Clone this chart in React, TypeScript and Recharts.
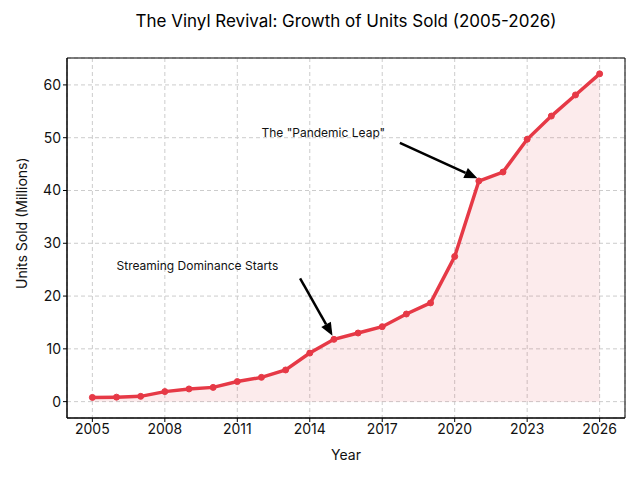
import React from "react";
import {
  ComposedChart,
  Area,
  Line,
  XAxis,
  YAxis,
  CartesianGrid,
  ReferenceLine,
  ReferenceDot,
  ReferenceArea,
} from "recharts";

// Units sold per year (millions)
const years = [
  2005, 2006, 2007, 2008, 2009, 2010, 2011, 2012, 2013, 2014, 2015,
  2016, 2017, 2018, 2019, 2020, 2021, 2022, 2023, 2024, 2025, 2026,
];
const units = [
  0.8, 0.85, 1.0, 1.9, 2.4, 2.7, 3.8, 4.6, 6.0, 9.2, 11.8,
  13.0, 14.2, 16.6, 18.7, 27.5, 41.8, 43.5, 49.7, 54.1, 58.1, 62.1,
];
const xTicks = [2005, 2008, 2011, 2014, 2017, 2020, 2023, 2026];
const yTicks = [0, 10, 20, 30, 40, 50, 60];

// annotations: text anchor and arrow tail/tip in data coordinates
const annotations = [
  { text: 'The "Pandemic Leap"', tx: 2012, ty: 50.1, from: [2017.73, 49.0], to: [2020.94, 42.3] },
  { text: "Streaming Dominance Starts", tx: 2006, ty: 24.9, from: [2013.6, 23.35], to: [2014.94, 12.5] },
];

const data = years.map((year, i) => ({ year, units: units[i] }));

const FONT = "Inter, 'Noto Sans', sans-serif";
const RED = "#e63946";

const Arrow = (props: any) => {
  const { x1, y1, x2, y2 } = props;
  const dx = x2 - x1;
  const dy = y2 - y1;
  const len = Math.sqrt(dx * dx + dy * dy);
  const ux = dx / len;
  const uy = dy / len;
  const headLen = 13;
  const headW = 5.5;
  const bx = x2 - ux * headLen;
  const by = y2 - uy * headLen;
  const pts = `${x2},${y2} ${bx - uy * headW},${by + ux * headW} ${bx + uy * headW},${by - ux * headW}`;
  return (
    <g>
      <line x1={x1} y1={y1} x2={bx} y2={by} stroke="#000" strokeWidth={2.5} />
      <polygon points={pts} fill="#000" />
    </g>
  );
};

export default function App() {
  return (
    <div style={{ position: "fixed", left: 0, top: 0, width: 640, height: 480, background: "#fff", fontFamily: FONT }}>
      <div
        style={{
          position: "absolute",
          top: 11,
          left: 67,
          width: 558,
          textAlign: "center",
          fontSize: 17,
          color: "#000",
        }}
      >
        The Vinyl Revival: Growth of Units Sold (2005-2026)
      </div>
      <ComposedChart
        width={640}
        height={480}
        data={data}
        margin={{ top: 58, right: 15, bottom: 0, left: 0 }}
        style={{ fontFamily: FONT }}
      >
        <CartesianGrid stroke="#cccccc" strokeDasharray="4 3" />
        <XAxis
          dataKey="year"
          type="number"
          domain={[2003.95, 2027.05]}
          ticks={xTicks}
          allowDataOverflow
          height={62}
          tick={{ fill: "#111", fontSize: 14 }}
          tickLine={{ stroke: "#000" }}
          tickSize={4}
          axisLine={{ stroke: "#000" }}
          label={{ value: "Year", position: "insideBottom", offset: 20, fill: "#111", fontSize: 14 }}
        />
        <YAxis
          type="number"
          domain={[-3.1, 65.1]}
          ticks={yTicks}
          allowDataOverflow
          width={67}
          tick={{ fill: "#111", fontSize: 14 }}
          tickLine={{ stroke: "#000" }}
          tickSize={4}
          axisLine={{ stroke: "#000" }}
          label={{
            value: "Units Sold (Millions)",
            angle: -90,
            position: "insideLeft",
            offset: 22,
            dy: 51,
            fill: "#111",
            fontSize: 14,
          }}
        />
        <Area
          dataKey="units"
          type="linear"
          baseValue={0}
          stroke="none"
          fill={RED}
          fillOpacity={0.1}
          isAnimationActive={false}
        />
        <Line
          dataKey="units"
          type="linear"
          stroke={RED}
          strokeWidth={3.5}
          dot={{ r: 3, fill: RED, stroke: RED, strokeWidth: 1 }}
          activeDot={false}
          isAnimationActive={false}
        />
        <ReferenceArea
          x1={2003.95}
          x2={2027.05}
          y1={-3.1}
          y2={65.1}
          fill="none"
          stroke="#000"
          strokeWidth={1}
          fillOpacity={0}
        />
        {annotations.map((a) => (
          <ReferenceLine
            key={a.text + "-arrow"}
            segment={[
              { x: a.from[0], y: a.from[1] },
              { x: a.to[0], y: a.to[1] },
            ]}
            shape={Arrow}
          />
        ))}
        {annotations.map((a) => (
          <ReferenceDot
            key={a.text}
            x={a.tx}
            y={a.ty}
            r={0}
            shape={(p: any) => (
              <text x={p.cx} y={p.cy} fontSize={12} fill="#111" fontFamily={FONT}>
                {a.text}
              </text>
            )}
          />
        ))}
      </ComposedChart>
    </div>
  );
}
